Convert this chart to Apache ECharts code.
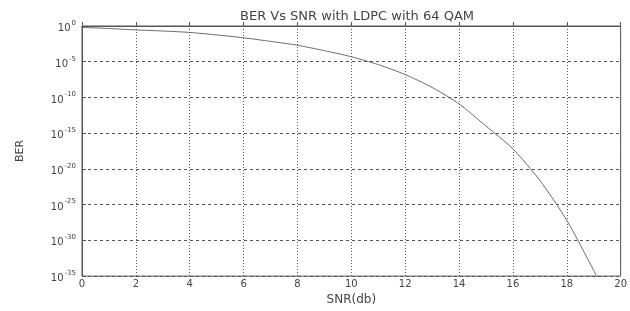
<!DOCTYPE html>
<html>
<head>
<meta charset="utf-8">
<script src="https://cdn.jsdelivr.net/npm/echarts@6/dist/echarts.min.js"></script>
<style>
html,body{margin:0;padding:0;background:#fff;}
#chart{width:630px;height:311px;}
</style>
</head>
<body>
<div id="chart"></div>
<script>
// SNR in dB
var snr = [0, 1, 2, 3, 4, 5, 6, 7, 8, 9, 10, 11, 12, 13, 14, 15, 16, 17, 18, 19, 19.1];
// BER as log10 exponent
var berExp = [-0.2, -0.35, -0.55, -0.7, -0.9, -1.25, -1.65, -2.15, -2.7, -3.45, -4.3, -5.4, -6.8, -8.6, -10.9, -14.0, -17.2, -21.6, -27.2, -34.2, -35];
var xTicks = [0, 2, 4, 6, 8, 10, 12, 14, 16, 18, 20];
var yTicks = [0, -5, -10, -15, -20, -25, -30, -35];

var points = [];
for (var i = 0; i < snr.length; i++) {
	points.push([snr[i], berExp[i]]);
}

var txt = '#444';
var font = 'DejaVu Sans';

var option = {
	animation: false,
	backgroundColor: '#fff',
	title: {
		text: 'BER Vs SNR with LDPC with 64 QAM',
		left: 352, top: 5, textAlign: 'center',
		textStyle: {fontFamily: font, fontSize: 13, fontWeight: 'normal', color: txt}
	},
	grid: {
		left: 82, top: 26, right: 4, bottom: 29,
		show: true, borderColor: '#555', borderWidth: 1
	},
	xAxis: {
		type: 'value',
		min: xTicks[0], max: xTicks[xTicks.length - 1], interval: 2,
		name: 'SNR(db)', nameLocation: 'middle', nameGap: 15,
		nameTextStyle: {fontFamily: font, fontSize: 12, color: txt},
		axisLine: {show: true, lineStyle: {color: '#555'}},
		axisTick: {show: true, inside: true, length: 4, lineStyle: {color: '#555'}},
		axisLabel: {fontFamily: font, fontSize: 10, color: txt, margin: 3},
		splitLine: {show: true, lineStyle: {color: '#555', width: 1, type: [1, 2]}}
	},
	yAxis: {
		type: 'value',
		min: yTicks[yTicks.length - 1], max: yTicks[0], interval: 5,
		name: 'BER', nameLocation: 'middle', nameGap: 56, nameRotate: 90,
		nameTextStyle: {fontFamily: font, fontSize: 11, color: txt},
		axisLine: {show: true, lineStyle: {color: '#555'}},
		axisTick: {show: true, inside: true, length: 4, lineStyle: {color: '#555'}},
		axisLabel: {
			margin: 6,
			formatter: function (v) { return '{b|10}{s|' + v + '}'; },
			rich: {
				b: {fontFamily: font, fontSize: 10, color: txt, padding: [5, 0, 0, 0]},
				s: {fontFamily: font, fontSize: 7, color: txt, padding: [0, 0, 6, 1]}
			}
		},
		splitLine: {show: true, lineStyle: {color: '#555', width: 1, type: [3, 3]}}
	},
	series: [{
		type: 'line',
		data: points,
		showSymbol: false,
		smooth: 0.25,
		clip: true,
		lineStyle: {color: '#6b6b70', width: 1}
	}]
};

var myChart = echarts.init(document.getElementById('chart'));
myChart.setOption(option);
</script>
</body>
</html>
